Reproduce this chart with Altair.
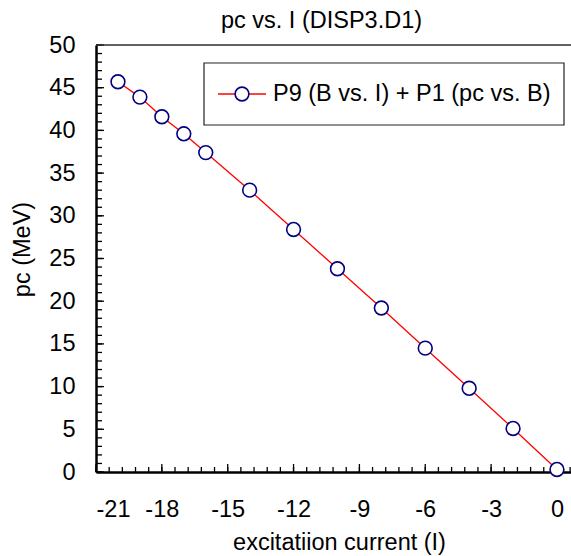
import altair as alt
import pandas as pd
import numpy as np

# ---- data ----
current_I = [-20, -19, -18, -17, -16, -14, -12, -10, -8, -6, -4, -2, 0]
pc_MeV = [45.7, 43.9, 41.6, 39.6, 37.4, 33.0, 28.4, 23.8, 19.2, 14.5, 9.8, 5.1, 0.3]
x_major_ticks = [-21, -18, -15, -12, -9, -6, -3, 0]
y_major_ticks = [0, 5, 10, 15, 20, 25, 30, 35, 40, 45, 50]
x_minor_ticks = list(np.round(np.arange(-21, 0.61, 0.6), 2))
y_minor_ticks = list(range(0, 51))
legend_label = ["P9 (B vs. I) + P1 (pc vs. B)"]
title_text = "pc vs. I (DISP3.D1)"

FONT = "Liberation Sans"
FS = 23.5
W, H = 475, 427

df = pd.DataFrame({"I": current_I, "pc": pc_MeV})

xscale = alt.Scale(domain=[-21, 0.64], nice=False, zero=False)
yscale = alt.Scale(domain=[0, 50], nice=False)

base = alt.Chart(df)

line = base.mark_line(color="#ff0000", strokeWidth=1.3).encode(
    x=alt.X("I:Q", scale=xscale,
            axis=alt.Axis(values=x_major_ticks, title="excitatiion current (I)",
                          labelExpr="datum.value + ''", tickSize=0, ticks=False,
                          labelPadding=25, domainWidth=2.5, domainColor="black",
                          labelFontSize=FS, labelFont=FONT, labelColor="black",
                          titleFontSize=FS, titleFont=FONT, titleFontWeight="normal",
                          titleColor="black", titlePadding=10, titleX=243,
                          grid=False)),
    y=alt.Y("pc:Q", scale=yscale,
            axis=alt.Axis(values=y_major_ticks, title="pc (MeV)",
                          tickSize=0, ticks=False, labelPadding=21,
                          domainWidth=2.5, domainColor="black",
                          labelFontSize=FS, labelFont=FONT, labelColor="black",
                          titleFontSize=FS, titleFont=FONT, titleFontWeight="normal",
                          titleColor="black", titleX=-74, titleY=204,
                          titleAlign="center", titleBaseline="middle",
                          grid=False)),
)

points = base.mark_point(shape="circle", size=190, filled=True, fill="white",
                         stroke="#000080", strokeWidth=1.6, opacity=1).encode(
    x=alt.X("I:Q", scale=xscale),
    y=alt.Y("pc:Q", scale=yscale),
)

# tick marks (inside the plot)
xmin_df = pd.DataFrame({"t": x_minor_ticks})
xmaj_df = pd.DataFrame({"t": x_major_ticks})
ymin_df = pd.DataFrame({"t": y_minor_ticks})
ymaj_df = pd.DataFrame({"t": y_major_ticks})

xminor = alt.Chart(xmin_df).mark_rule(color="black", strokeWidth=1.3).encode(
    x=alt.X("t:Q", scale=xscale), y=alt.value(H), y2=alt.value(H - 5))
xmajor = alt.Chart(xmaj_df).mark_rule(color="black", strokeWidth=1.3).encode(
    x=alt.X("t:Q", scale=xscale), y=alt.value(H), y2=alt.value(H - 8))
yminor = alt.Chart(ymin_df).mark_rule(color="black", strokeWidth=1.3).encode(
    y=alt.Y("t:Q", scale=yscale), x=alt.value(0), x2=alt.value(6))
ymajor = alt.Chart(ymaj_df).mark_rule(color="black", strokeWidth=1.3).encode(
    y=alt.Y("t:Q", scale=yscale), x=alt.value(0), x2=alt.value(8))

# top frame line
leg_df = pd.DataFrame({"label": legend_label})
top_line = alt.Chart(leg_df).mark_rule(color="#333333", strokeWidth=1.5).encode(
    x=alt.value(0), x2=alt.value(W), y=alt.value(0))

# legend
leg_box = alt.Chart(leg_df).mark_rect(fill="white", stroke="#222222", strokeWidth=1.2).encode(
    x=alt.value(108), x2=alt.value(468), y=alt.value(18), y2=alt.value(80))
leg_line = alt.Chart(leg_df).mark_rule(color="#ff0000", strokeWidth=1.3).encode(
    x=alt.value(122), x2=alt.value(170), y=alt.value(49))
leg_pt = alt.Chart(leg_df).mark_point(shape="circle", size=190, filled=True, fill="white",
                                       stroke="#000080", strokeWidth=1.6, opacity=1).encode(
    x=alt.value(146), y=alt.value(49))
leg_text = alt.Chart(leg_df).mark_text(align="left", baseline="middle", fontSize=FS,
                                        font=FONT, color="black").encode(
    x=alt.value(177), y=alt.value(49), text="label:N")

chart = alt.layer(
    xminor, xmajor, yminor, ymajor, top_line, line, points,
    leg_box, leg_line, leg_pt, leg_text
).properties(
    width=W, height=H,
    title=alt.TitleParams(title_text, fontSize=FS, font=FONT, fontWeight="normal",
                          color="black", anchor="middle", offset=1, dx=-12),
    autosize=alt.AutoSizeParams(type="none"),
    padding={"left": 96, "top": 45, "right": 0, "bottom": 84},
).configure_view(strokeWidth=0).configure(background="white")

chart.save("out.html", embed_options={"renderer": "svg", "actions": False})
